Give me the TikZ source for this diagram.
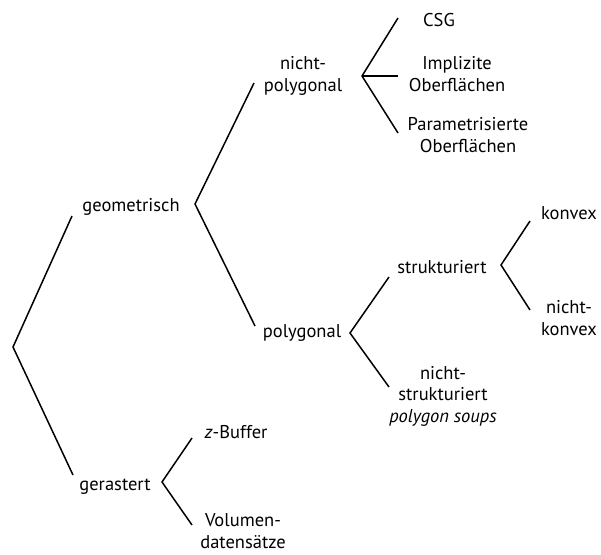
\documentclass[tikz,border=0pt]{standalone}
\usepackage{fontspec}
\setmainfont{PT Sans}
\begin{document}
\begin{tikzpicture}[x=1pt,y=-1pt,
  lbl/.style={inner sep=0pt,align=center,font=\fontsize{18.5}{21.5}\selectfont},
  brace/.style={line width=1.5pt,line join=miter}]
\useasboundingbox (0,0) rectangle (601,554);

% labels
\node[lbl] (geo) at (131,207) {geometrisch};
\node[lbl] (ras) at (115,487) {gerastert};
\node[lbl] (npoly) at (303,76) {nicht-\\polygonal};
\node[lbl] (poly) at (302,333) {polygonal};
\node[lbl] (csg) at (439,20) {CSG};
\node[lbl] (impl) at (457,74) {Implizite\\Oberflächen};
\node[lbl] (param) at (468,135) {Parametrisierte\\Oberflächen};
\node[lbl] (struk) at (442,267) {strukturiert};
\node[lbl] (nstruk) at (443,396) {nicht-\\strukturiert\\\textit{polygon soups}};
\node[lbl] (konv) at (569,213) {konvex};
\node[lbl] (nkonv) at (569,318) {nicht-\\konvex};
\node[lbl] (zbuf) at (236,432) {\textit{z}-Buffer};
\node[lbl] (vol) at (243,531) {Volumen-\\datensätze};

% bracket corners and arm ends
\coordinate (r0) at (13,347);
\coordinate (r1) at (72,216);
\coordinate (r2) at (73,475);
\coordinate (g0) at (195,204);
\coordinate (g1) at (254,83);
\coordinate (g2) at (255,326);
\coordinate (n0) at (362,76);
\coordinate (n1) at (398,18);
\coordinate (n2) at (398,76);
\coordinate (n3) at (398,133);
\coordinate (p0) at (350,333);
\coordinate (p1) at (389,277);
\coordinate (p2) at (389,387);
\coordinate (s0) at (501,265);
\coordinate (s1) at (530,221);
\coordinate (s2) at (530,310);
\coordinate (e0) at (162,482);
\coordinate (e1) at (192,438);
\coordinate (e2) at (192,525);

% brackets
\draw[brace] (r1) -- (r0) -- (r2);
\draw[brace] (g1) -- (g0) -- (g2);
\draw[brace] (n1) -- (n0) -- (n3);
\draw[brace] (n0) -- (n2);
\draw[brace] (p1) -- (p0) -- (p2);
\draw[brace] (s1) -- (s0) -- (s2);
\draw[brace] (e1) -- (e0) -- (e2);
\end{tikzpicture}
\end{document}
